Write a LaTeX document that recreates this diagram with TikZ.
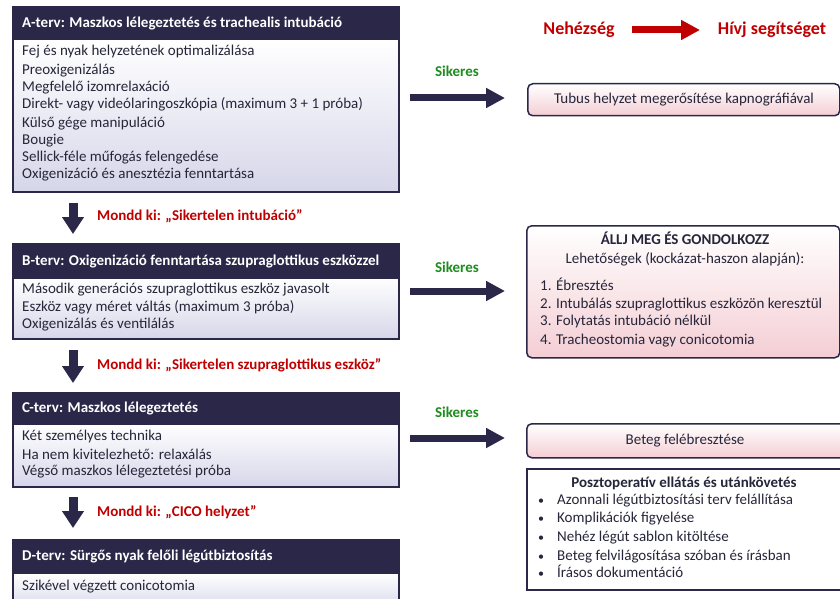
\documentclass[tikz,border=0pt]{standalone}
\usepackage{fontspec}
\setmainfont{Carlito}
\usetikzlibrary{arrows.meta}
\definecolor{navy}{RGB}{42,39,72}
\definecolor{lav}{RGB}{214,214,234}
\definecolor{pinkb}{RGB}{244,206,212}
\definecolor{redc}{RGB}{192,0,0}
\definecolor{greenc}{RGB}{30,140,30}
\definecolor{txt}{RGB}{38,38,58}
\begin{document}
\begin{tikzpicture}[x=1pt,y=-1pt,
  hdr/.style={draw=navy, fill=navy, line width=1.5pt, minimum width=386pt, anchor=north west, inner sep=0pt},
  bodybox/.style={draw=navy, line width=1.5pt, top color=white, bottom color=lav, minimum width=386pt, anchor=north west, inner sep=0pt},
  rbox/.style={draw=navy, line width=1.5pt, rounded corners=5pt, top color=white, bottom color=pinkb, anchor=north west, inner sep=0pt},
  wbox/.style={draw=navy, line width=1.5pt, fill=white, anchor=north west, inner sep=0pt},
  tshift/.style={yshift=-2pt},
  htxt/.style={tshift, anchor=mid west, text=white, font=\fontsize{15}{17}\selectfont\bfseries, inner sep=0pt},
  btxt/.style={tshift, anchor=mid west, text=txt, font=\fontsize{15}{17}\selectfont, inner sep=0pt},
  ctxt/.style={tshift, anchor=mid, text=txt, font=\fontsize{15}{17}\selectfont, inner sep=0pt},
  cbtxt/.style={tshift, anchor=mid, text=txt, font=\fontsize{15}{17}\selectfont\bfseries, inner sep=0pt},
  redlbl/.style={tshift, anchor=mid west, text=redc, font=\fontsize{15}{17}\selectfont\bfseries, inner sep=0pt},
  greenlbl/.style={tshift, anchor=mid, text=greenc, font=\fontsize{15}{17}\selectfont\bfseries, inner sep=0pt},
  toplbl/.style={tshift, anchor=mid, text=redc, font=\fontsize{18}{20}\selectfont\bfseries, inner sep=0pt},
  sarrow/.style={draw=navy, line width=7pt, -{Triangle[length=19pt, width=19pt]}},
  darrow/.style={draw=navy, line width=9pt, -{Triangle[length=17pt, width=21pt]}},
  rarrow/.style={draw=redc, line width=7pt, -{Triangle[length=19pt, width=19pt]}}
]
\clip (0,0) rectangle (840,599);
\fill[white] (0,0) rectangle (840,599);

% ---------- A ----------
\node[bodybox, minimum height=152pt] (Ab) at (12,39) {};
\node[hdr, minimum height=33pt] (Ah) at (12,6) {};
\node[htxt] (Aht) at (22,23) {A-terv: Maszkos lélegeztetés és trachealis intubáció};
\node[btxt] (A1) at (22,51) {Fej és nyak helyzetének optimalizálása};
\node[btxt] (A2) at (22,70) {Preoxigenizálás};
\node[btxt] (A3) at (22,87) {Megfelelő izomrelaxáció};
\node[btxt] (A4) at (22,104) {Direkt- vagy videólaringoszkópia (maximum 3 + 1 próba)};
\node[btxt] (A5) at (22,123) {Külső gége manipuláció};
\node[btxt] (A6) at (22,140) {Bougie};
\node[btxt] (A7) at (22,157) {Sellick-féle műfogás felengedése};
\node[btxt] (A8) at (22,174) {Oxigenizáció és anesztézia fenntartása};

% ---------- B ----------
\node[bodybox, minimum height=61pt] (Bb) at (12,277) {};
\node[hdr, minimum height=34pt] (Bh) at (12,243) {};
\node[htxt] (Bht) at (22,261) {B-terv: Oxigenizáció fenntartása szupraglottikus eszközzel};
\node[btxt] (B1) at (22,289) {Második generációs szupraglottikus eszköz javasolt};
\node[btxt] (B2) at (22,307) {Eszköz vagy méret váltás (maximum 3 próba)};
\node[btxt] (B3) at (22,324) {Oxigenizálás és ventilálás};

% ---------- C ----------
\node[bodybox, minimum height=63pt] (Cb) at (12,423) {};
\node[hdr, minimum height=31pt] (Ch) at (12,392) {};
\node[htxt] (Cht) at (22,408) {C-terv: Maszkos lélegeztetés};
\node[btxt] (C1) at (22,436) {Két személyes technika};
\node[btxt] (C2) at (22,455) {Ha nem kivitelezhető: relaxálás};
\node[btxt] (C3) at (22,471) {Végső maszkos lélegeztetési próba};

% ---------- D ----------
\node[bodybox, minimum height=40pt] (Db) at (12,572) {};
\node[hdr, minimum height=33pt] (Dh) at (12,539) {};
\node[htxt] (Dht) at (22,556) {D-terv: Sürgős nyak felőli légútbiztosítás};
\node[btxt] (D1) at (22,586) {Szikével végzett conicotomia};

% ---------- down arrows ----------
\coordinate (d1s) at (73,203); \coordinate (d1e) at (73,234);
\coordinate (d2s) at (73,350); \coordinate (d2e) at (73,383);
\coordinate (d3s) at (73,497); \coordinate (d3e) at (73,528);
\draw[darrow] (d1s) -- (d1e);
\draw[darrow] (d2s) -- (d2e);
\draw[darrow] (d3s) -- (d3e);
\node[redlbl] (L1) at (97,216) {Mondd ki: „Sikertelen intubáció”};
\node[redlbl] (L2) at (97,365) {Mondd ki: „Sikertelen szupraglottikus eszköz”};
\node[redlbl] (L3) at (97,512) {Mondd ki: „CICO helyzet”};

% ---------- top ----------
\node[toplbl] (neh) at (579,30) {Nehézség};
\node[toplbl] (hiv) at (772,30) {Hívj segítséget};
\coordinate (rs) at (632,30); \coordinate (re) at (700,30);
\draw[rarrow] (rs) -- (re);

% ---------- right boxes ----------
\node[rbox, minimum width=312pt, minimum height=32pt] (Tb) at (527,83) {};
\node[ctxt] (Tt) at (684,99) {Tubus helyzet megerősítése kapnográfiával};

\node[rbox, minimum width=313pt, minimum height=132pt] (Sb) at (526,225) {};
\node[cbtxt] (S0) at (685,240) {ÁLLJ MEG ÉS GONDOLKOZZ};
\node[ctxt] (S00) at (685,259) {Lehetőségek (kockázat-haszon alapján):};
\node[btxt] (S1) at (540,286) {1. Ébresztés};
\node[btxt] (S2) at (540,304) {2. Intubálás szupraglottikus eszközön keresztül};
\node[btxt] (S3) at (540,321) {3. Folytatás intubáció nélkül};
\node[btxt] (S4) at (540,340) {4. Tracheostomia vagy conicotomia};

\node[rbox, minimum width=325pt, minimum height=34pt] (Eb) at (526,423) {};
\node[ctxt] (Et) at (685,440) {Beteg felébresztése};

\node[wbox, minimum width=325pt, minimum height=121pt] (Pb) at (526,468) {};
\node[cbtxt] (P0) at (684,483) {Posztoperatív ellátás és utánkövetés};
\foreach \yy/\tt [count=\i] in {500/Azonnali légútbiztosítási terv felállítása,518/Komplikációk figyelése,537/Nehéz légút sablon kitöltése,556/Beteg felvilágosítása szóban és írásban,573/Írásos dokumentáció}{
  \node[btxt, font=\fontsize{12}{14}\selectfont] (Pd\i) at (538,\yy) {•};
  \node[btxt] (P\i) at (557,\yy) {\tt};
}

% ---------- success arrows ----------
\coordinate (as) at (410,98);  \coordinate (ae) at (505,98);
\coordinate (bs) at (410,291); \coordinate (be) at (505,291);
\coordinate (cs) at (410,438); \coordinate (ce) at (505,438);
\draw[sarrow] (as) -- (ae);
\draw[sarrow] (bs) -- (be);
\draw[sarrow] (cs) -- (ce);
\node[greenlbl] (g1) at (457,72) {Sikeres};
\node[greenlbl] (g2) at (457,268) {Sikeres};
\node[greenlbl] (g3) at (457,413) {Sikeres};
\end{tikzpicture}
\end{document}
